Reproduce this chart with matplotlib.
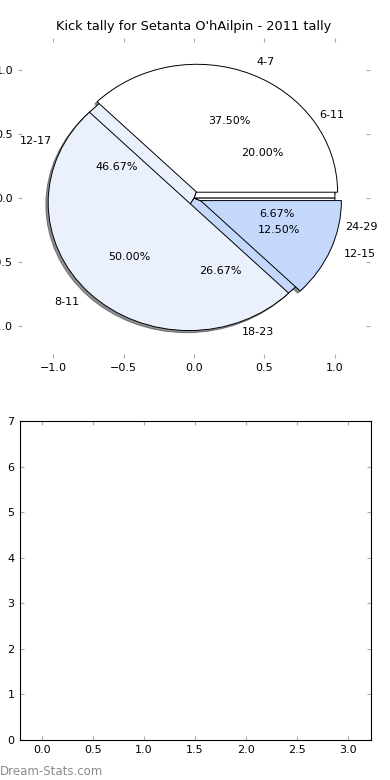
import matplotlib
matplotlib.use('Agg')
import matplotlib.pyplot as plt

# kick tally data (two overlaid pies)
labels_a = ['4-7', '8-11', '12-15']
pct_a = [37.5, 50.0, 12.5]
labels_b = ['6-11', '12-17', '18-23', '24-29']
pct_b = [20.0, 46.67, 26.67, 6.67]

colours = ['#ffffff', '#eaf0fc', '#c4d8fc']
title = "Kick tally for Setanta O'hAilpin - 2011 tally"

plt.rcParams['font.size'] = 8
plt.rcParams['xtick.direction'] = 'in'
plt.rcParams['ytick.direction'] = 'in'

fig = plt.figure(figsize=(3.9, 7.8), dpi=100)

#Top pie chart
shadow = {'ox': -0.012, 'oy': -0.012, 'shade': 0.85}
ax = fig.add_axes([0.046, 0.541, 0.903, 0.41])
ax.pie(pct_b, labels=labels_b, colors=colours, autopct='%1.2f%%',
       shadow=shadow, wedgeprops={'edgecolor': 'black', 'linewidth': 0.7})
ax.pie(pct_a, labels=labels_a, colors=colours, autopct='%1.2f%%',
       shadow=shadow, explode=[0.05, 0.05, 0.05],
       wedgeprops={'edgecolor': 'black', 'linewidth': 0.7})
ax.set_aspect('auto')
ax.set_xlim(-1.25, 1.25)
ax.set_ylim(-1.25, 1.25)
ax.set_xticks([-1.0, -0.5, 0.0, 0.5, 1.0])
ax.set_yticks([-1.0, -0.5, 0.0, 0.5, 1.0])
ax.tick_params(top=True, right=True, color='#aaaaaa', length=3)
ax.set_title(title, fontsize=9.3)

#Empty bottom axes
ax2 = fig.add_axes([0.05, 0.0513, 0.90, 0.409])
ax2.set_xlim(-0.22, 3.22)
ax2.set_ylim(0, 7)
ax2.set_xticks([0.0, 0.5, 1.0, 1.5, 2.0, 2.5, 3.0])
ax2.set_yticks(range(8))
ax2.tick_params(top=True, right=True, color='#aaaaaa', length=3)

fig.text(0.0, 0.006, 'Dream-Stats.com', color='#8a8a8a', fontsize=8.5)

fig.savefig('out.png', dpi=100)
